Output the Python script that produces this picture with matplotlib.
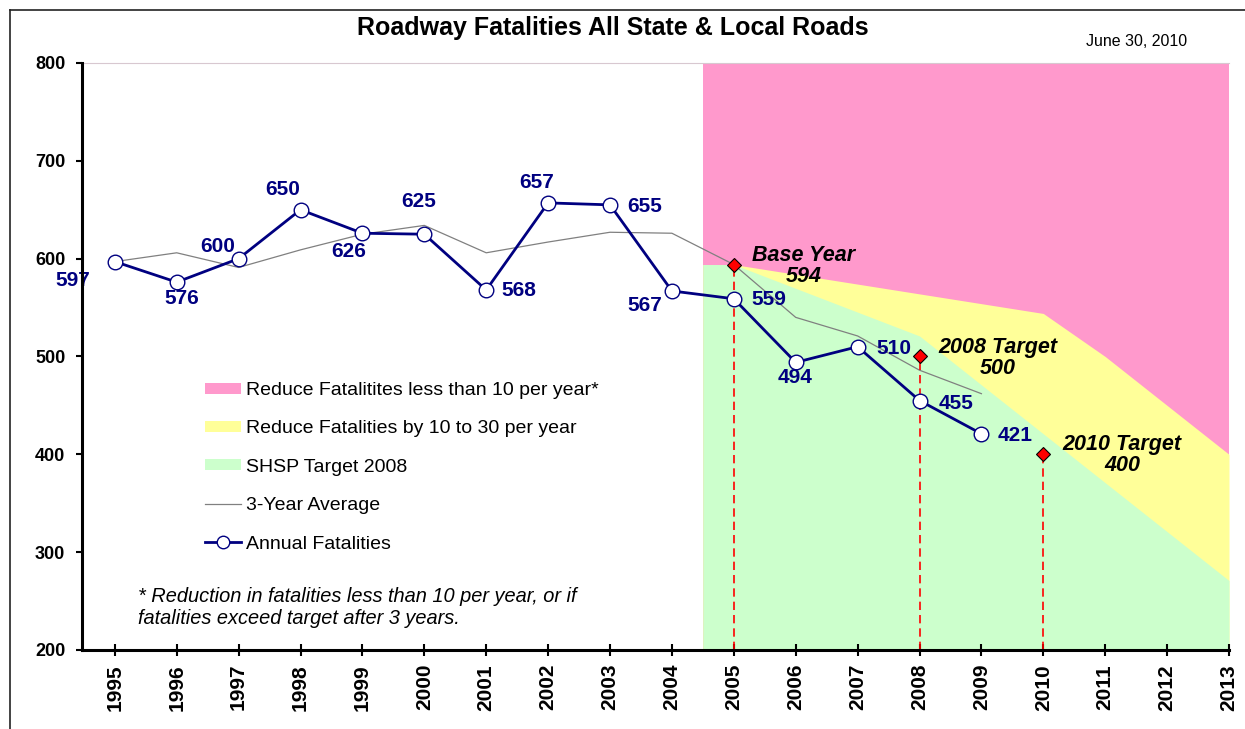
import matplotlib
matplotlib.use("Agg")
import matplotlib.pyplot as plt
from matplotlib.patches import Patch
from matplotlib.lines import Line2D

plt.rcParams['font.family'] = ['Liberation Sans', 'DejaVu Sans']

# ---- data ----
years = [1995, 1996, 1997, 1998, 1999, 2000, 2001, 2002, 2003, 2004,
         2005, 2006, 2007, 2008, 2009]
annual = [597, 576, 600, 650, 626, 625, 568, 657, 655, 567,
          559, 494, 510, 455, 421]
avg3 = [597, 606, 591, 609, 625, 634, 606, 617, 627, 626,
        594, 540, 521, 486, 462]

band_years = [2004.5, 2005, 2008, 2010, 2011, 2013]
yellow_top = [594, 594, 564, 544, 500, 400]
shsp_top = [594, 594, 521, 421, 371, 271]

target_years = [2005, 2008, 2010]
target_vals = [594, 500, 400]
target_names = ["Base Year", "2008 Target", "2010 Target"]

xtick_years = list(range(1995, 2014))
ytick_vals = [200, 300, 400, 500, 600, 700, 800]

legend_labels = ["Reduce Fatalitites less than 10 per year*",
                 "Reduce Fatalities by 10 to 30 per year",
                 "SHSP Target 2008",
                 "3-Year Average",
                 "Annual Fatalities"]

# label offsets in pixels (dx, dy)
label_offsets = [(-42, -19), (5, -16), (-21, 12), (-18, 20), (-14, -18),
                 (-6, 33), (33, -1), (-11, 20), (35, -2), (-27, -15),
                 (35, -1), (-1, -15), (36, -2), (37, -3), (34, -2)]
target_offsets = [(70, -1), (78, -1), (79, -1)]

W, H = 1245, 729
fig = plt.figure(figsize=(W / 100, H / 100), dpi=100)
ax = fig.add_axes([82 / W, 1 - 650 / H, (1229 - 82) / W, (650 - 63) / H])

navy = '#000080'
pink = '#FF99CC'
yellow = '#FFFF99'
green = '#CCFFCC'

ax.set_xlim(1994.47, 2013)
ax.set_ylim(200, 800)

# bands
ax.fill_between([band_years[0], band_years[-1]], 200, 800, color=pink, lw=0, zorder=1)
ax.fill_between(band_years, 200, yellow_top, color=yellow, lw=0, zorder=1.1)
ax.fill_between(band_years, 200, shsp_top, color=green, lw=0, zorder=1.2)

# 3-year average
ax.plot(years, avg3, color='#808080', lw=0.9, zorder=3)

# annual
ax.plot(years, annual, color=navy, lw=2.0, marker='o', markersize=10.5,
        markerfacecolor='white', markeredgecolor=navy, markeredgewidth=1.0, zorder=5)

# target dashed lines and diamonds
ax.vlines(target_years, 200, target_vals, colors='#FF0000', linestyles=(0, (5, 3)),
          lw=1.2, zorder=4)
ax.plot(target_years, target_vals, linestyle='none', marker='D', markersize=7,
        markerfacecolor='#FF0000', markeredgecolor='black', markeredgewidth=0.8, zorder=6)

for x, y, (dx, dy) in zip(years, annual, label_offsets):
    ax.annotate(str(y), (x, y), xytext=(dx, dy), textcoords='offset pixels',
                ha='center', va='center', fontsize=15, fontweight='bold', color=navy,
                zorder=7)

for x, y, name, (dx, dy) in zip(target_years, target_vals, target_names, target_offsets):
    ax.annotate(f"{name}\n{y}", (x, y), xytext=(dx, dy), textcoords='offset pixels',
                ha='center', va='center', multialignment='center', fontsize=15.5,
                fontweight='bold', fontstyle='italic', color='black', linespacing=1.0,
                zorder=7)

# axes styling
ax.spines['right'].set_visible(False)
ax.spines['top'].set_color('#D8C8D0')
ax.spines['top'].set_linewidth(0.8)
ax.spines['left'].set_linewidth(2.2)
ax.spines['bottom'].set_linewidth(2.2)
ax.spines['left'].set_zorder(8)
ax.spines['bottom'].set_zorder(8)

ax.set_xticks(xtick_years)
ax.set_xticklabels([str(y) for y in xtick_years], rotation=90, fontsize=15, fontweight='bold')
ax.set_yticks(ytick_vals)
ax.set_yticklabels([str(v) for v in ytick_vals], fontsize=13, fontweight='bold')
ax.tick_params(axis='x', direction='inout', length=8, width=1.5, pad=6)
ax.tick_params(axis='y', direction='out', length=4, width=1.5, pad=8)

# legend
handles = [Patch(facecolor=pink, edgecolor='none'),
           Patch(facecolor=yellow, edgecolor='none'),
           Patch(facecolor=green, edgecolor='none'),
           Line2D([], [], color='#808080', lw=0.9),
           Line2D([], [], color=navy, lw=2.0, marker='o', markersize=9,
                  markerfacecolor='white', markeredgecolor=navy, markeredgewidth=1.0)]
leg = fig.legend(handles, legend_labels, loc='upper left',
                 bbox_to_anchor=(205 / W, 1 - 382 / H), frameon=False,
                 fontsize=14, handlelength=1.85, handleheight=0.5, handletextpad=0.25,
                 labelspacing=1.1, borderpad=0, borderaxespad=0)

fig.text(138 / W, 1 - 597 / H, "* Reduction in fatalities less than 10 per year, or if",
         fontsize=14.4, fontstyle='italic', va='center', ha='left')
fig.text(138 / W, 1 - 618 / H, "fatalities exceed target after 3 years.",
         fontsize=14.4, fontstyle='italic', va='center', ha='left')

# title and date
fig.text(613 / W, 1 - 28 / H, "Roadway Fatalities All State & Local Roads",
         fontsize=18, fontweight='bold', ha='center', va='center')
fig.text(1137 / W, 1 - 41 / H, "June 30, 2010", fontsize=11.5, ha='center', va='center')

# outer border (top and left)
fig.add_artist(Line2D([10 / W, 10 / W], [0, 1 - 10 / H], transform=fig.transFigure,
                      color='#222222', lw=1.2))
fig.add_artist(Line2D([10 / W, 1], [1 - 10 / H, 1 - 10 / H], transform=fig.transFigure,
                      color='#222222', lw=1.2))

fig.savefig('out.png', dpi=100)
